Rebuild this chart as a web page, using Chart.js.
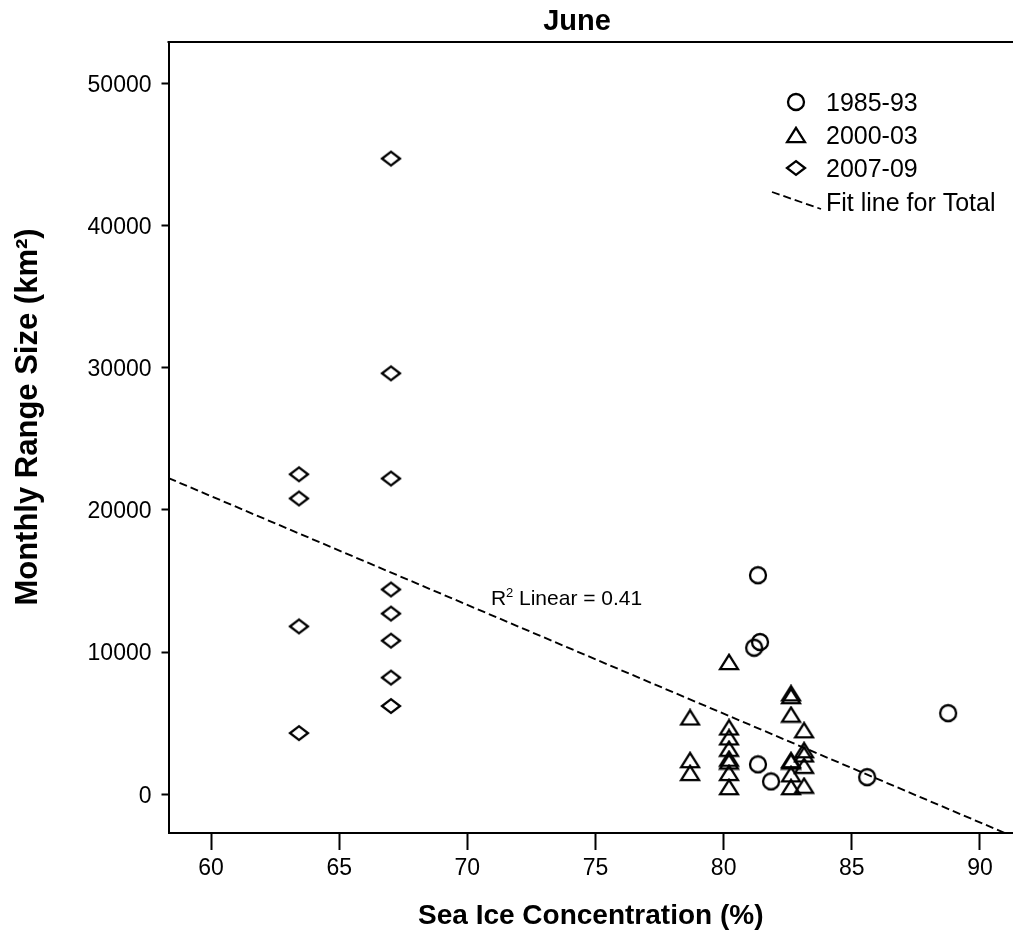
<!DOCTYPE html>
<html>
<head>
<meta charset="utf-8">
<script src="https://cdn.jsdelivr.net/npm/chart.js@4.4.1/dist/chart.umd.min.js"></script>
<style>
html,body{margin:0;padding:0;background:#fff;overflow:hidden}
#wrap{position:relative;width:1013px;height:937px}
</style>
</head>
<body>
<div id="wrap"><canvas id="c" width="1013" height="937"></canvas></div>
<script>
// ---- data ----
const chartTitle = 'June';
const seriesNames = ['1985-93', '2000-03', '2007-09', 'Fit line for Total'];

const circleX = [81.34, 81.19, 81.42, 81.34, 81.85, 85.60, 88.76];
const circleY = [15400, 10300, 10700, 2100, 900, 1200, 5700];

const triX = [78.69, 78.69, 78.69,
              80.21, 80.21, 80.21, 80.21, 80.21, 80.21, 80.21, 80.21,
              82.63, 82.63, 82.63, 82.63, 82.63, 82.63, 82.63,
              83.14, 83.14, 83.14, 83.14, 83.14];
const triY = [5400, 2400, 1500,
              9300, 4700, 4000, 3200, 2500, 2300, 1500, 500,
              7100, 6900, 5600, 2400, 2300, 1400, 500,
              4500, 3100, 2800, 2000, 600];

const diaX = [63.43, 63.43, 63.43, 63.43,
              67.02, 67.02, 67.02, 67.02, 67.02, 67.02, 67.02, 67.02];
const diaY = [22500, 20800, 11800, 4300,
              44700, 29600, 22200, 14400, 12700, 10800, 8200, 6200];

const fitX = [58.34, 90.97];
const fitY = [22230, -2728];
const rSquaredText = 'Linear = 0.41';

const xTicks = [60, 65, 70, 75, 80, 85, 90];
const yTicks = [0, 10000, 20000, 30000, 40000, 50000];
const xTitle = 'Sea Ice Concentration (%)';
const yTitle = 'Monthly Range Size (km\u00B2)';

// ---- marker images ----
function makeMarker(kind) {
  const c = document.createElement('canvas');
  const g = c.getContext('2d');
  g.lineWidth = 2.3; g.strokeStyle = '#000'; g.lineJoin = 'miter';
  if (kind === 'circle') {
    c.width = 20; c.height = 20;
    g.lineWidth = 2.3; g.strokeStyle = '#000';
    g.beginPath(); g.arc(10, 10, 8, 0, Math.PI * 2); g.stroke();
  } else if (kind === 'triangle') {
    c.width = 22; c.height = 18;
    g.lineWidth = 2.3; g.strokeStyle = '#000'; g.lineJoin = 'miter';
    g.beginPath(); g.moveTo(11, 1.8); g.lineTo(20, 16.2); g.lineTo(2, 16.2); g.closePath(); g.stroke();
  } else {
    c.width = 22; c.height = 18;
    g.lineWidth = 2.3; g.strokeStyle = '#000'; g.lineJoin = 'miter';
    g.beginPath(); g.moveTo(11, 2.2); g.lineTo(20, 9); g.lineTo(11, 15.8); g.lineTo(2, 9); g.closePath(); g.stroke();
  }
  return c;
}
const circleImg = makeMarker('circle');
const triImg = makeMarker('triangle');
const diaImg = makeMarker('diamond');

const pts = (xs, ys) => xs.map((x, i) => ({x: x, y: ys[i]}));
const FONT = "'Liberation Sans', Arial, sans-serif";

const decorPlugin = {
  id: 'decor',
  afterDraw(chart) {
    const ctx = chart.ctx;
    const a = chart.chartArea;
    ctx.save();
    // top frame line (plot box continues past the right edge of the picture)
    ctx.strokeStyle = '#000'; ctx.lineWidth = 2;
    ctx.beginPath(); ctx.moveTo(a.left - 1, a.top); ctx.lineTo(a.right + 2, a.top); ctx.stroke();

    // title
    ctx.fillStyle = '#000';
    ctx.font = 'bold 29px ' + FONT;
    ctx.textAlign = 'center'; ctx.textBaseline = 'alphabetic';
    ctx.fillText(chartTitle, 577, 30);

    // y axis title
    ctx.save();
    ctx.translate(28, 417);
    ctx.rotate(-Math.PI / 2);
    ctx.font = 'bold 31px ' + FONT;
    ctx.textAlign = 'center'; ctx.textBaseline = 'middle';
    ctx.fillText(yTitle, 0, 0);
    ctx.restore();

    // R² annotation
    ctx.textAlign = 'left'; ctx.textBaseline = 'alphabetic';
    ctx.font = '21px ' + FONT;
    ctx.fillText('R', 491, 605);
    ctx.font = '13px ' + FONT;
    ctx.fillText('2', 506, 597);
    ctx.font = '21px ' + FONT;
    ctx.fillText(rSquaredText, 519, 605);

    // legend
    const imgs = [circleImg, triImg, diaImg];
    const my = [102, 135, 168];
    const ty = [104, 137, 170];
    ctx.font = '25px ' + FONT;
    ctx.textBaseline = 'middle';
    for (let i = 0; i < 3; i++) {
      const im = imgs[i];
      ctx.drawImage(im, 796 - im.width / 2, my[i] - im.height / 2);
      ctx.fillText(seriesNames[i], 826, ty[i]);
    }
    ctx.setLineDash([8, 4]);
    ctx.lineWidth = 1.8;
    ctx.beginPath(); ctx.moveTo(772, 192); ctx.lineTo(821, 209); ctx.stroke();
    ctx.setLineDash([]);
    ctx.fillText(seriesNames[3], 826, 204);
    ctx.restore();
  }
};

new Chart(document.getElementById('c'), {
  type: 'scatter',
  data: {
    datasets: [
      {label: seriesNames[0], data: pts(circleX, circleY), pointStyle: circleImg, pointRadius: 9, pointHoverRadius: 9},
      {label: seriesNames[1], data: pts(triX, triY), pointStyle: triImg, pointRadius: 9, pointHoverRadius: 9},
      {label: seriesNames[2], data: pts(diaX, diaY), pointStyle: diaImg, pointRadius: 9, pointHoverRadius: 9},
      {label: seriesNames[3], type: 'line', data: pts(fitX, fitY), borderColor: '#000', borderWidth: 1.9,
       borderDash: [8, 4], pointRadius: 0, fill: false, showLine: true, tension: 0}
    ]
  },
  options: {
    responsive: false,
    animation: false,
    devicePixelRatio: 1,
    layout: {autoPadding: false, padding: {top: 42, left: 0, right: 0, bottom: 0}},
    plugins: {legend: {display: false}, tooltip: {enabled: false}, title: {display: false}},
    scales: {
      x: {
        type: 'linear', min: 58.34, max: 91.29,
        afterBuildTicks: s => { s.ticks = xTicks.map(v => ({value: v})); },
        afterFit: s => { s.height = 104; s.paddingLeft = 0; s.paddingRight = 0; },
        grid: {drawOnChartArea: false, drawTicks: true, tickLength: 17, tickWidth: 2, tickColor: '#000'},
        border: {display: true, color: '#000', width: 2},
        ticks: {color: '#000', font: {family: FONT, size: 23}, padding: 5, maxRotation: 0, autoSkip: false},
        title: {display: true, text: xTitle, color: '#000', font: {family: FONT, size: 28, weight: 'bold'}, padding: {top: 0, bottom: 4}}
      },
      y: {
        type: 'linear', min: -2728, max: 52900,
        afterBuildTicks: s => { s.ticks = yTicks.map(v => ({value: v})); },
        afterFit: s => { s.width = 168.5; s.paddingTop = 0; s.paddingBottom = 0; },
        grid: {drawOnChartArea: false, drawTicks: true, tickLength: 7, tickWidth: 2, tickColor: '#000'},
        border: {display: true, color: '#000', width: 2},
        ticks: {color: '#000', font: {family: FONT, size: 23}, padding: 10, labelOffset: 2, autoSkip: false,
                callback: v => String(v)},
        title: {display: false}
      }
    }
  },
  plugins: [decorPlugin]
});
</script>
</body>
</html>
